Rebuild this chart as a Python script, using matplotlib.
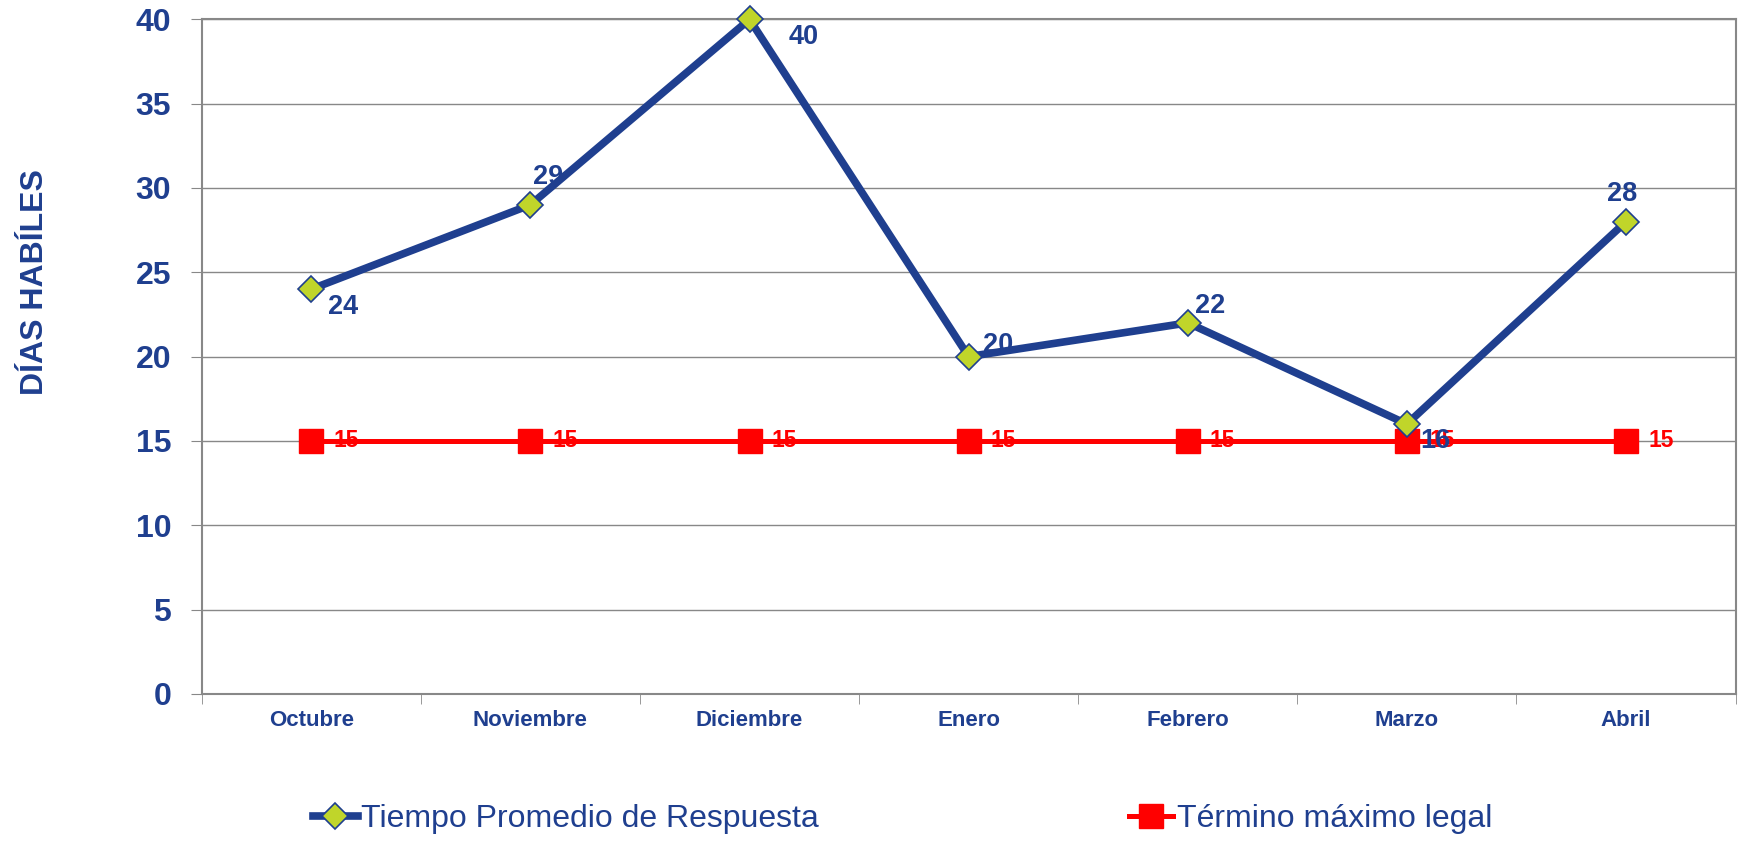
import matplotlib.pyplot as plt

plt.rcParams['font.family'] = ['Liberation Sans', 'DejaVu Sans']

meses = ['Octubre', 'Noviembre', 'Diciembre', 'Enero', 'Febrero', 'Marzo', 'Abril']
tiempo = [24, 29, 40, 20, 22, 16, 28]
termino = [15, 15, 15, 15, 15, 15, 15]

azul = '#1F3F8F'
rojo = '#FF0000'
verde = '#C0D52A'

# label offsets (points) for the blue series, as placed in the original
off_tiempo = [(12, -13), (2, 20), (28, -13), (10, 8), (5, 12), (10, -12), (-14, 20)]

fig = plt.figure(figsize=(17.39, 8.42), dpi=100)
ax = fig.add_axes([0.116, 0.176, 0.882, 0.801])

x = list(range(len(meses)))
ax.plot(x, termino, color=rojo, lw=3.6, marker='s', ms=17, mfc=rojo, mec=rojo,
        label='Término máximo legal', zorder=3, clip_on=False)
ax.plot(x, tiempo, color=azul, lw=5.5, marker='D', ms=13, mfc=verde, mec=azul,
        mew=1.2, label='Tiempo Promedio de Respuesta', zorder=4, clip_on=False)

for xp, y in zip(x, termino):
    ax.annotate(str(y), (xp, y), xytext=(16, 0), textcoords='offset points',
                color=rojo, fontsize=16.5, fontweight='bold', ha='left', va='center', zorder=5)
for xp, y, o in zip(x, tiempo, off_tiempo):
    ax.annotate(str(y), (xp, y), xytext=o, textcoords='offset points',
                color=azul, fontsize=19.5, fontweight='bold', ha='left',
                va='center', zorder=6)

ax.set_xlim(-0.5, len(meses) - 0.5)
ax.set_ylim(0, 40)
ax.set_yticks(range(0, 41, 5))
ax.set_xticks(x)
ax.set_xticklabels(meses)
ax.set_xticks([i - 0.5 for i in range(len(meses) + 1)], minor=True)
ax.tick_params(axis='x', which='major', length=0, pad=12, labelsize=16, labelcolor=azul)
ax.tick_params(axis='x', which='minor', length=7, color='#888888', direction='out')
ax.tick_params(axis='y', length=8, color='#888888', labelsize=23, labelcolor=azul, pad=14)
for lab in ax.get_xticklabels() + ax.get_yticklabels():
    lab.set_fontweight('bold')

ax.grid(axis='y', color='#888888', lw=1)
ax.set_axisbelow(True)
for s in ax.spines.values():
    s.set_color('#888888')
    s.set_linewidth(1.5)

ax.set_ylabel('DÍAS HABÍLES', fontsize=23, fontweight='bold', color=azul)
ax.yaxis.set_label_coords(-0.099, 0.61)

h, l = ax.get_legend_handles_labels()
leg = fig.legend(h[::-1], l[::-1], loc='center', bbox_to_anchor=(0.519, 0.027), ncol=2,
                 frameon=False, fontsize=23, columnspacing=9.7, handlelength=1.4,
                 handletextpad=0.1)
for t in leg.get_texts():
    t.set_color(azul)

fig.savefig('out.png', dpi=100)
